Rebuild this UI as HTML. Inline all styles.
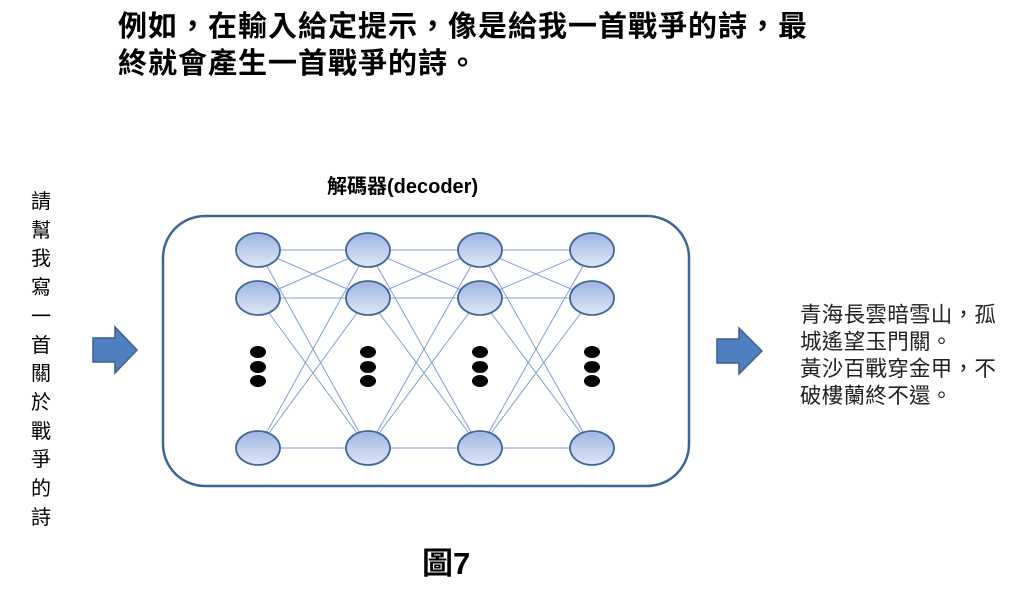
<!DOCTYPE html>
<html><head><meta charset="utf-8"><style>
body{margin:0;width:1024px;height:603px;background:#fff;position:relative;overflow:hidden;font-family:"Liberation Sans","Noto Sans CJK TC",sans-serif;}
.t{position:absolute;white-space:nowrap;color:#000}
</style></head><body>
<div class="t" style="left:118px;top:9px;font-size:29px;font-weight:bold;line-height:37px;letter-spacing:1px">例如，在輸入給定提示，像是給我一首戰爭的詩，最<br>終就會產生一首戰爭的詩。</div>
<div class="t" style="left:327px;top:170px;font-size:20px;font-weight:bold;">解碼器(decoder)</div>
<div class="t" style="left:31px;top:188px;font-size:20px;line-height:28.7px;white-space:normal;width:22px;">請<br>幫<br>我<br>寫<br>一<br>首<br>關<br>於<br>戰<br>爭<br>的<br>詩</div>
<div class="t" style="left:800px;top:302px;font-size:21.5px;line-height:27px;color:#222;letter-spacing:0.3px">青海長雲暗雪山，孤<br>城遙望玉門關。<br>黃沙百戰穿金甲，不<br>破樓蘭終不還。</div>
<div class="t" style="left:422px;top:538px;font-size:31px;font-weight:bold;">圖7</div>
<svg width="1024" height="603" style="position:absolute;left:0;top:0">
<defs><linearGradient id="g" x1="0" y1="0" x2="0" y2="1"><stop offset="0" stop-color="#9db5e3"/><stop offset="1" stop-color="#dfe7f5"/></linearGradient></defs>
<rect x="163" y="216" width="526" height="270" rx="42" fill="none" stroke="#3d6596" stroke-width="2.5"/>
<g stroke="#7c9fd6" stroke-width="1">
<path d="M258 250L368 250M258 250L368 298M258 250L368 448M258 298L368 250M258 298L368 298M258 298L368 448M258 448L368 250M258 448L368 298M258 448L368 448
M368 250L480 250M368 250L480 298M368 250L480 448M368 298L480 250M368 298L480 298M368 298L480 448M368 448L480 250M368 448L480 298M368 448L480 448
M480 250L592 250M480 250L592 298M480 250L592 448M480 298L592 250M480 298L592 298M480 298L592 448M480 448L592 250M480 448L592 298M480 448L592 448"/>
</g>
<g fill="url(#g)" stroke="#41679a" stroke-width="1.8">
<ellipse cx="258" cy="250" rx="22" ry="17"/><ellipse cx="258" cy="298" rx="22" ry="17"/><ellipse cx="258" cy="448" rx="22" ry="17"/>
<ellipse cx="368" cy="250" rx="22" ry="17"/><ellipse cx="368" cy="298" rx="22" ry="17"/><ellipse cx="368" cy="448" rx="22" ry="17"/>
<ellipse cx="480" cy="250" rx="22" ry="17"/><ellipse cx="480" cy="298" rx="22" ry="17"/><ellipse cx="480" cy="448" rx="22" ry="17"/>
<ellipse cx="592" cy="250" rx="22" ry="17"/><ellipse cx="592" cy="298" rx="22" ry="17"/><ellipse cx="592" cy="448" rx="22" ry="17"/>
</g>
<g fill="#000">
<ellipse cx="258" cy="352" rx="8" ry="6"/><ellipse cx="258" cy="367" rx="8" ry="6"/><ellipse cx="258" cy="381" rx="8" ry="6"/>
<ellipse cx="368" cy="352" rx="8" ry="6"/><ellipse cx="368" cy="367" rx="8" ry="6"/><ellipse cx="368" cy="381" rx="8" ry="6"/>
<ellipse cx="480" cy="352" rx="8" ry="6"/><ellipse cx="480" cy="367" rx="8" ry="6"/><ellipse cx="480" cy="381" rx="8" ry="6"/>
<ellipse cx="592" cy="352" rx="8" ry="6"/><ellipse cx="592" cy="367" rx="8" ry="6"/><ellipse cx="592" cy="381" rx="8" ry="6"/>
</g>
<g fill="#4f7fbf" stroke="#3a5f8f" stroke-width="1.5">
<path d="M93 338H115V327L137 350L115 373V362H93Z"/>
<path d="M717 339H739V328L762 351L739 374V363H717Z"/>
</g>
</svg>
</body></html>
